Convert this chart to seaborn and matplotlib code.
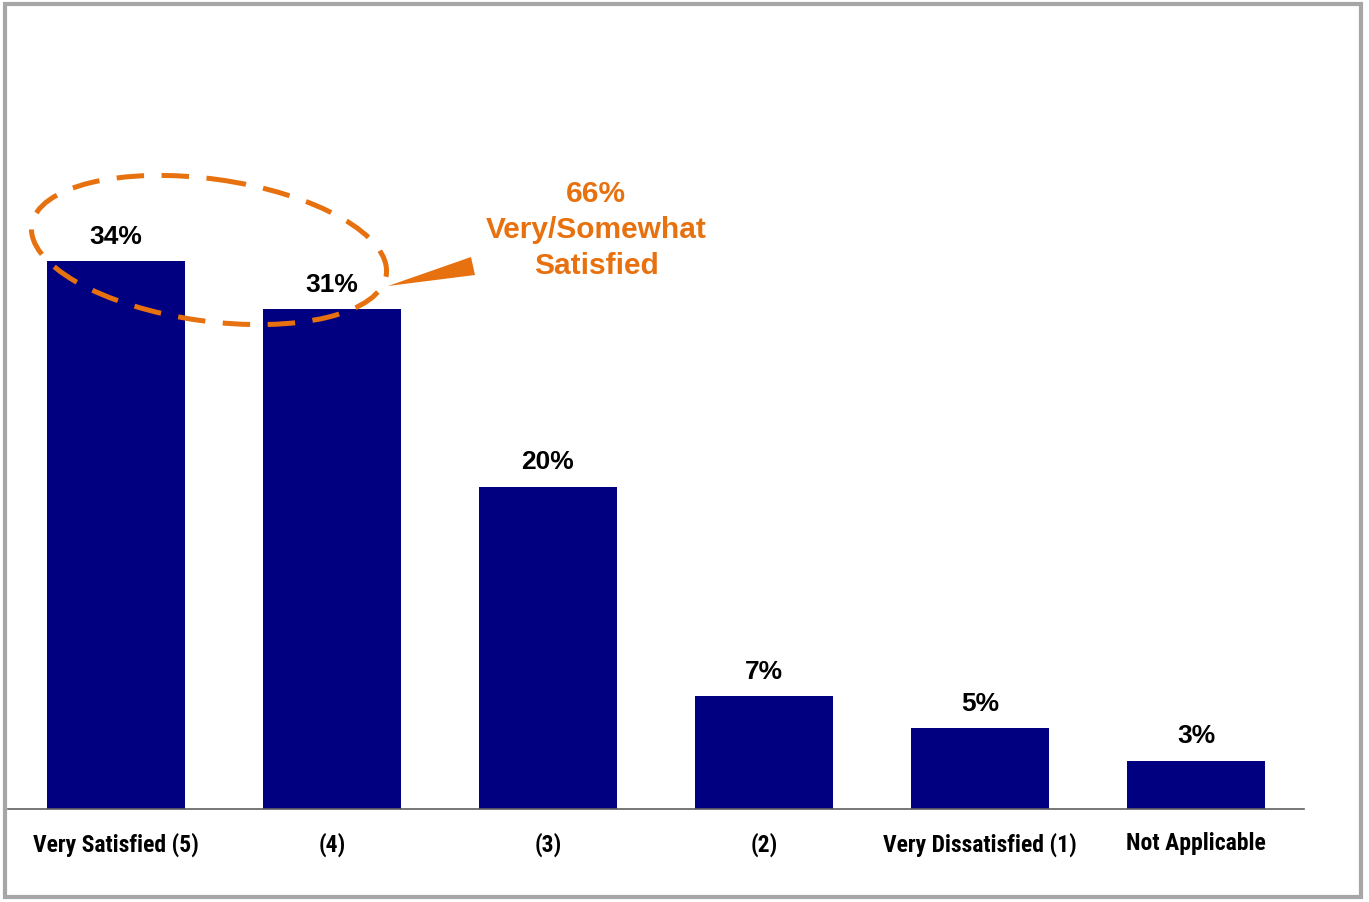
import matplotlib
matplotlib.use("Agg")
import matplotlib.pyplot as plt
import matplotlib.patches as mpatches
import seaborn as sns
import pandas as pd

categories = ["Very Satisfied (5)", "(4)", "(3)", "(2)", "Very Dissatisfied (1)", "Not Applicable"]
values = [34, 31, 20, 7, 5, 3]
value_labels = ["34%", "31%", "20%", "7%", "5%", "3%"]
callout_lines = ["66%", "Very/Somewhat", "Satisfied"]

W, H = 1369, 903
sns.set_theme(style="white")
plt.rcParams['font.family'] = ['Liberation Sans', 'DejaVu Sans']
narrow = ['Liberation Sans Narrow', 'Arial Narrow', 'Roboto Condensed', 'Archivo Narrow',
          'PT Sans Narrow', 'IBM Plex Sans Condensed', 'Open Sans Condensed', 'DejaVu Sans']

fig = plt.figure(figsize=(W / 100, H / 100), dpi=100)
fig.patch.set_facecolor("white")

ax_left, ax_right = 8, 1304
ax_bottom = 810
ymax = 40
px_per = 16.12
ax_top = ax_bottom - ymax * px_per
ax = fig.add_axes([ax_left / W, (H - ax_bottom) / H, (ax_right - ax_left) / W, (ax_bottom - ax_top) / H])

df = pd.DataFrame({"cat": categories, "val": values})
sns.barplot(data=df, x="cat", y="val", color="#000080", saturation=1, width=0.635, linewidth=0, ax=ax)
ax.set_xlim(-0.5, 5.5)
ax.set_ylim(0, ymax)
ax.set_xlabel("")
ax.set_ylabel("")
ax.set_yticks([])
for s in ["top", "right", "left"]:
    ax.spines[s].set_visible(False)
ax.spines["bottom"].set_color("#606060")
ax.spines["bottom"].set_linewidth(1.2)
ax.tick_params(axis="x", length=0, pad=16)
for lab in ax.get_xticklabels():
    lab.set_fontfamily(narrow)
    lab.set_fontweight("bold")
    lab.set_fontsize(17)
    lab.set_color("black")

for i, (v, t) in enumerate(zip(values, value_labels)):
    ax.annotate(t, (i, v), xytext=(0, 9.5), textcoords="offset points",
                ha="center", va="bottom", fontsize=19, fontweight="bold", color="black")

ov = fig.add_axes([0, 0, 1, 1], facecolor="none")
ov.set_xlim(0, W)
ov.set_ylim(H, 0)
ov.axis("off")
orange = "#E8710F"
ell = mpatches.Ellipse((209, 251), 358, 142, angle=8, fill=False, edgecolor=orange,
                       linewidth=3.6, linestyle=(0, (5.5, 3.5)))
ov.add_patch(ell)
tri = mpatches.Polygon([(388, 287), (471, 258), (475, 276)], closed=True, facecolor=orange, edgecolor="none")
ov.add_patch(tri)
for k, line in enumerate(callout_lines):
    ov.text(596, 194 + 36 * k, line, ha="center", va="center", fontsize=21.5, fontweight="bold", color=orange)

border = mpatches.Rectangle((5, 5), W - 10 - 3, H - 10, fill=False, edgecolor="#A6A6A6", linewidth=3)
ov.add_patch(border)

fig.savefig("out.png", dpi=100, facecolor="white")
